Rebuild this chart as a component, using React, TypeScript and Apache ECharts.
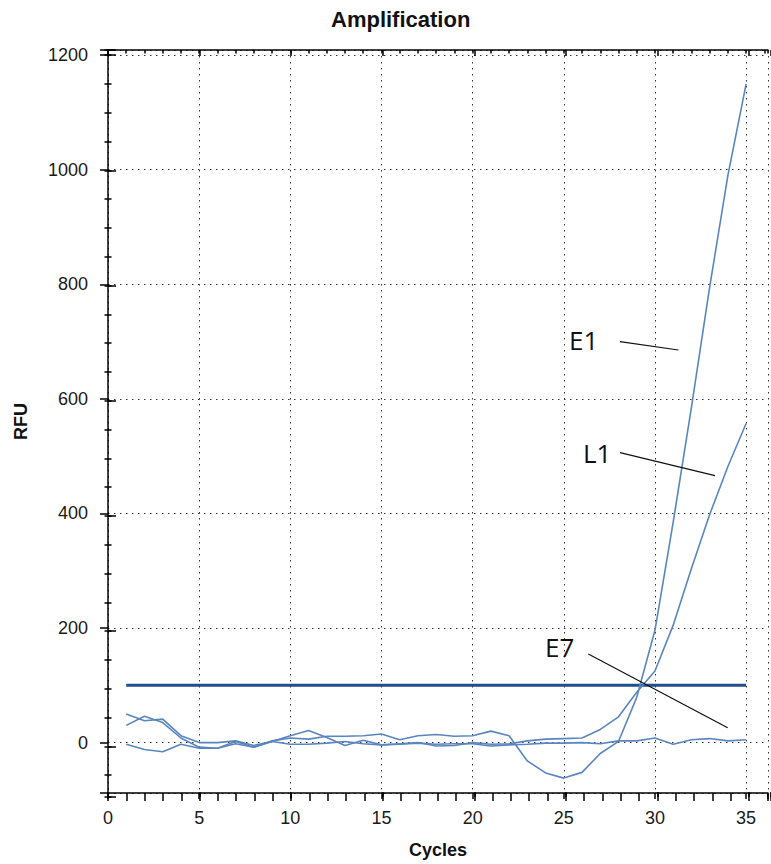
import React, { useEffect, useRef } from 'react';
import * as echarts from 'echarts';

const cycles = [1, 2, 3, 4, 5, 6, 7, 8, 9, 10, 11, 12, 13, 14, 15, 16, 17, 18, 19, 20, 21, 22, 23, 24, 25, 26, 27, 28, 29, 30, 31, 32, 33, 34, 35];
const e1Values = [30, 46, 35, 8, -8, -10, -2, -8, 3, 8, 6, 11, 11, 12, 15, 5, 12, 14, 11, 12, 20, 12, -32, -53, -62, -52, -19, 2, 79, 196, 385, 585, 795, 990, 1150];
const l1Values = [50, 38, 41, 12, 0, 0, 3, -5, 2, 12, 21, 9, -5, 4, -4, -2, 0, -6, -5, 0, -3, -2, 3, 6, 7, 8, 23, 45, 88, 125, 205, 304, 398, 482, 557];
const e7Values = [-3, -12, -16, -3, -10, -10, 2, -8, 2, -3, -3, -1, 2, -2, -4, -3, -1, -3, -2, -2, -6, -4, -3, -1, -1, 0, -2, 3, 3, 8, -3, 5, 7, 3, 5];
const thresholdValue = 100;
const thresholdRange = [1, 35];

const X_MIN = 0;
const X_MAX = 36.2;
const Y_MIN = -88;
const Y_MAX = 1209;

const FONT = '"Liberation Sans", Arial, sans-serif';
const CURVE_COLOR = '#5a86bf';

function pairs(vals: number[]) {
  return cycles.map((c, i) => [c, vals[i]]);
}

export default function App() {
  const ref = useRef<HTMLDivElement>(null);
  useEffect(() => {
    if (!ref.current) return;
    const chart = echarts.init(ref.current, undefined, { renderer: 'svg' });
    const gridRect = { left: 108, right: 0, top: 50, bottom: 67 };
    const hidden = { show: false };
    const baseX = { type: 'value', min: X_MIN, max: X_MAX };
    const baseY = { type: 'value', min: Y_MIN, max: Y_MAX };
    const tickStyle = { color: '#000', width: 1.5 };

    const xAxes: any[] = [
      {
        ...baseX, gridIndex: 0, position: 'bottom', interval: 5,
        axisLine: { show: true, onZero: false, lineStyle: { color: '#000', width: 1.5 } },
        axisTick: { show: true, length: 6, lineStyle: tickStyle },
        axisLabel: {
          show: true, margin: 16, fontSize: 18, color: '#1a1a1a', fontFamily: FONT,
          formatter: (v: number) => (Math.abs(v % 5) < 1e-6 ? String(Math.round(v)) : ''),
        },
        splitLine: { show: true, lineStyle: { color: '#333', width: 1, type: [1.5, 4.5] } },
        name: 'Cycles', nameLocation: 'middle', nameGap: 48,
        nameTextStyle: { fontSize: 18, fontWeight: 'bold', color: '#111', fontFamily: FONT },
      },
      {
        ...baseX, gridIndex: 0, position: 'top', interval: 1,
        axisLine: { show: true, onZero: false, lineStyle: { color: '#000', width: 1.5 } },
        axisTick: { show: true, inside: true, length: 3.5, lineStyle: tickStyle },
        axisLabel: hidden, splitLine: hidden,
      },
      {
        ...baseX, gridIndex: 1, position: 'bottom', interval: 5,
        axisLine: { show: false, onZero: false },
        axisTick: { show: true, inside: true, length: 5, lineStyle: tickStyle },
        axisLabel: hidden, splitLine: hidden,
      },
      {
        ...baseX, gridIndex: 1, position: 'top', interval: 5,
        axisLine: { show: false, onZero: false },
        axisTick: { show: true, inside: true, length: 6, lineStyle: tickStyle },
        axisLabel: hidden, splitLine: hidden,
      },
      {
        ...baseX, gridIndex: 2, position: 'bottom', interval: 1,
        axisLine: { show: false, onZero: false },
        axisTick: { show: true, length: 4, lineStyle: tickStyle },
        axisLabel: hidden, splitLine: hidden,
      },
      {
        ...baseX, gridIndex: 3, position: 'bottom', interval: 1,
        axisLine: { show: false, onZero: false },
        axisTick: { show: true, inside: true, length: 4, lineStyle: tickStyle },
        axisLabel: hidden, splitLine: hidden,
      },
    ];

    const yAxes: any[] = [
      {
        ...baseY, gridIndex: 0, position: 'left', splitNumber: 6,
        axisLine: { show: true, onZero: false, lineStyle: { color: '#000', width: 1.5 } },
        axisTick: { show: true, length: 8, lineStyle: tickStyle },
        axisLabel: {
          show: true, margin: 20, fontSize: 18, color: '#1a1a1a', fontFamily: FONT,
          formatter: (v: number) => (Math.abs(v % 200) < 1e-6 ? String(Math.round(v)) : ''),
        },
        splitLine: { show: true, lineStyle: { color: '#333', width: 1, type: [1.5, 4.5] } },
        name: 'RFU', nameLocation: 'middle', nameGap: 78, nameRotate: 90,
        nameTextStyle: { fontSize: 18, fontWeight: 'bold', color: '#111', fontFamily: FONT },
      },
      {
        ...baseY, gridIndex: 1, position: 'left', splitNumber: 6,
        axisLine: { show: false, onZero: false },
        axisTick: { show: true, inside: true, length: 8, lineStyle: tickStyle },
        axisLabel: hidden, splitLine: hidden,
      },
      {
        ...baseY, gridIndex: 2, position: 'left', splitNumber: 26,
        axisLine: { show: false, onZero: false },
        axisTick: { show: true, length: 3.5, lineStyle: tickStyle },
        axisLabel: hidden, splitLine: hidden,
      },
      {
        ...baseY, gridIndex: 3, position: 'left', splitNumber: 26,
        axisLine: { show: false, onZero: false },
        axisTick: { show: true, inside: true, length: 3.5, lineStyle: tickStyle },
        axisLabel: hidden, splitLine: hidden,
      },
    ];

    const curve = (name: string, vals: number[]) => ({
      name, type: 'line', xAxisIndex: 0, yAxisIndex: 0, data: pairs(vals),
      showSymbol: false, symbol: 'none', smooth: false,
      lineStyle: { color: CURVE_COLOR, width: 1.6 },
      z: 3,
    });

    const labelText = (text: string, x: number, y: number) => ({
      type: 'text', x, y, z: 100,
      style: { text, fontSize: 26, fontFamily: '"Open Sans", "Noto Sans", sans-serif', fill: '#111', textVerticalAlign: 'middle', verticalAlign: 'middle' },
    });
    const labelLine = (x1: number, y1: number, x2: number, y2: number) => ({
      type: 'line', z: 100,
      shape: { x1, y1, x2, y2 },
      style: { stroke: '#111', lineWidth: 1.2 },
    });

    chart.setOption({
      animation: false,
      backgroundColor: '#fff',
      title: {
        text: 'Amplification', left: 331, top: 8, padding: 0,
        textStyle: { fontSize: 22, fontWeight: 'bold', color: '#111', fontFamily: FONT },
      },
      grid: [0, 1, 2, 3].map(() => ({ ...gridRect, containLabel: false })),
      xAxis: xAxes,
      yAxis: yAxes,
      series: [
        {
          name: 'Threshold', type: 'line', xAxisIndex: 0, yAxisIndex: 0,
          data: [[thresholdRange[0], thresholdValue], [thresholdRange[1], thresholdValue]],
          showSymbol: false, symbol: 'none',
          lineStyle: { color: '#1d4f8e', width: 3 }, z: 2,
        },
        curve('E1', e1Values),
        curve('L1', l1Values),
        curve('E7', e7Values),
      ],
      graphic: [
        labelText('E1', 569, 340),
        labelLine(620, 341.7, 678.3, 350),
        labelText('L1', 583, 453),
        labelLine(620, 452.7, 715, 475.7),
        labelText('E7', 545, 646.5),
        labelLine(588.3, 654, 727.7, 727.7),
      ],
    });
    return () => chart.dispose();
  }, []);
  return <div ref={ref} style={{ position: 'absolute', left: 0, top: 0, width: 771, height: 864 }} />;
}
